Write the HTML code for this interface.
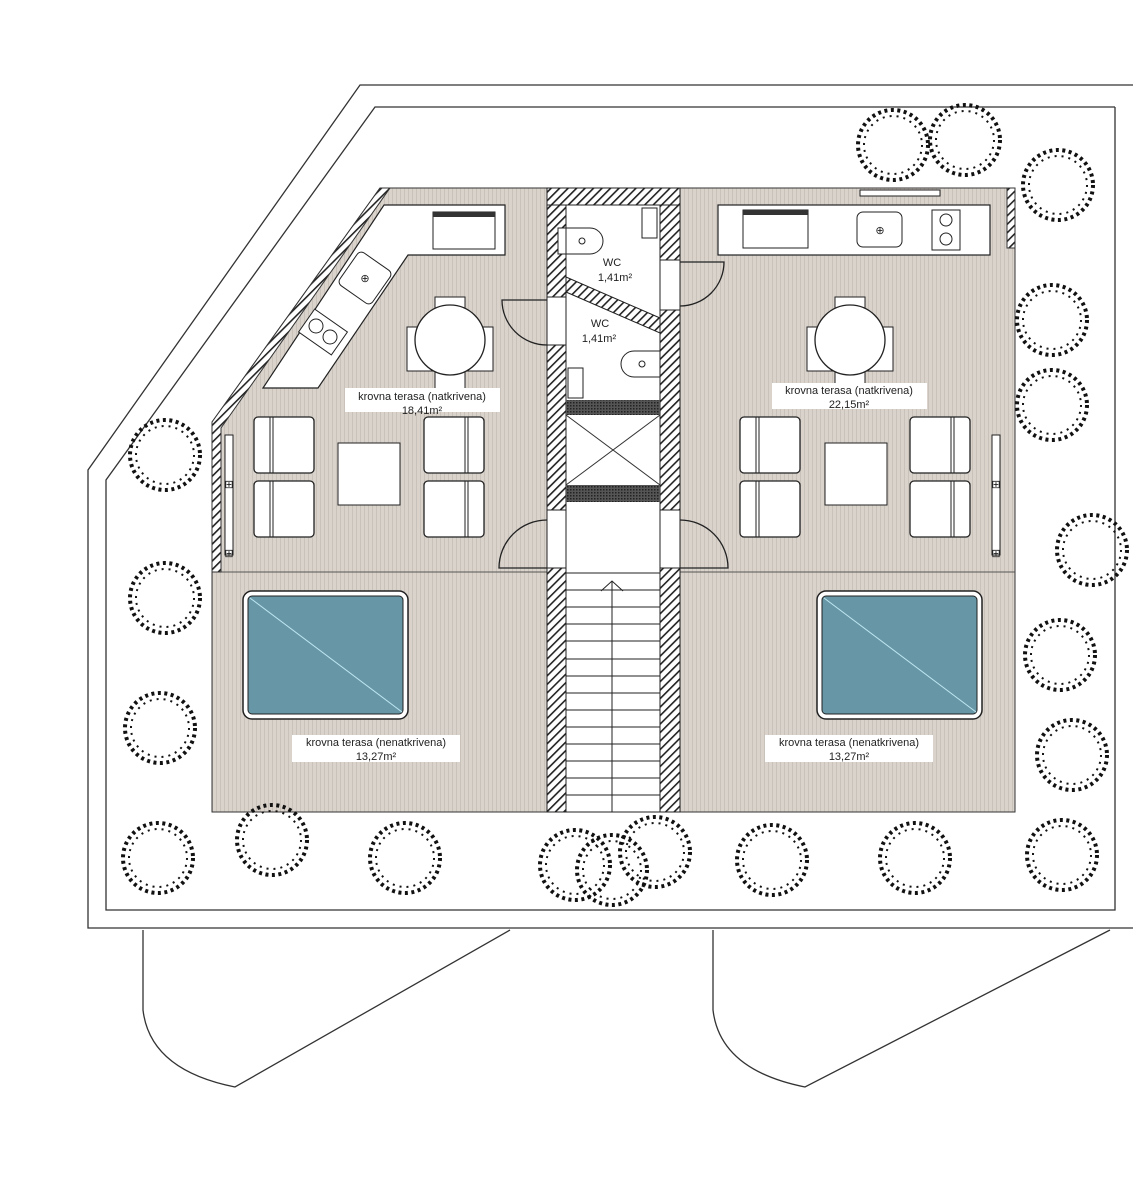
<!DOCTYPE html>
<html><head><meta charset="utf-8"><style>body{margin:0;background:#fff}svg{display:block}text{font-family:"Liberation Sans",sans-serif;font-size:11px;fill:#222;text-anchor:middle}</style></head>
<body>
<svg width="1133" height="1200" viewBox="0 0 1133 1200" xmlns="http://www.w3.org/2000/svg">
<defs>
<pattern id="stripe" width="4" height="4" patternUnits="userSpaceOnUse"><rect width="4" height="4" fill="#d9d3cc"/><rect width="1" height="4" fill="#c9c2bb"/></pattern>
<pattern id="hatch" width="6" height="6" patternUnits="userSpaceOnUse" patternTransform="rotate(45)"><rect width="6" height="6" fill="#fff"/><rect width="1.6" height="6" fill="#222"/></pattern>
<pattern id="dots" width="3" height="3" patternUnits="userSpaceOnUse"><rect width="3" height="3" fill="#555"/><rect width="1.5" height="1.5" fill="#222"/></pattern>
<g id="tree" fill="none" stroke="#111"><circle r="35" stroke-width="4" stroke-dasharray="3 3.5"/><circle r="29" stroke-width="2" stroke-dasharray="2 5"/></g>
<g id="chair"><rect x="0" y="0" width="60" height="56" rx="4" fill="#fff" stroke="#222" stroke-width="1.3"/><line x1="16" y1="0" x2="16" y2="56" stroke="#222"/><line x1="19" y1="0" x2="19" y2="56" stroke="#222"/></g>
</defs>
<polyline points="1133,85 360,85 88,470 88,928 1133,928" fill="none" stroke="#333" stroke-width="1.3"/>
<polyline points="1115,107 375,107 106,480 106,910 1115,910 1115,107" fill="none" stroke="#333" stroke-width="1.3"/>
<path d="M143,930 L143,1010 Q150,1070 235,1087 L510,930" fill="none" stroke="#333" stroke-width="1.3"/>
<path d="M713,930 L713,1010 Q720,1070 805,1087 L1110,930" fill="none" stroke="#333" stroke-width="1.3"/>
<polygon points="212,812 212,422 380,188 547,188 547,812" fill="url(#stripe)" stroke="#333"/>
<rect x="680" y="188" width="335" height="624" fill="url(#stripe)" stroke="#333"/>
<line x1="212" y1="572" x2="547" y2="572" stroke="#555"/>
<line x1="680" y1="572" x2="1015" y2="572" stroke="#555"/>
<polygon points="212,422 380,188 390,188 221,428 221,572 212,572" fill="url(#hatch)" stroke="#333"/>
<rect x="1007" y="188" width="8" height="60" fill="url(#hatch)" stroke="#333"/>
<polygon points="263,388 384,205 505,205 505,255 408,255 318,388" fill="#fff" stroke="#222" stroke-width="1.2"/>
<rect x="433" y="212" width="62" height="37" fill="#fff" stroke="#222"/><rect x="433" y="212" width="62" height="5" fill="#333"/>
<rect x="345" y="258" width="40" height="40" rx="5" fill="#fff" stroke="#222" transform="rotate(35 365 278)"/>
<text x="365" y="282" font-size="12">⊕</text>
<rect x="303" y="318" width="40" height="28" fill="#fff" stroke="#222" transform="rotate(35 323 332)"/>
<circle cx="316" cy="326" r="7" fill="none" stroke="#222"/><circle cx="330" cy="337" r="7" fill="none" stroke="#222"/>
<rect x="435" y="297" width="30" height="105" fill="#fff" stroke="#222"/><rect x="407" y="327" width="86" height="44" fill="#fff" stroke="#222"/>
<circle cx="450" cy="340" r="35" fill="#fff" stroke="#222" stroke-width="1.3"/>
<rect x="345" y="388" width="155" height="24" fill="#fff"/>
<text x="422" y="400">krovna terasa (natkrivena)</text><text x="422" y="414">18,41m²</text>
<use href="#chair" x="254" y="417"/><use href="#chair" x="254" y="481"/>
<g transform="translate(484,417) scale(-1,1)"><use href="#chair"/></g><g transform="translate(484,481) scale(-1,1)"><use href="#chair"/></g>
<rect x="338" y="443" width="62" height="62" fill="#fff" stroke="#222"/>
<rect x="225" y="435" width="8" height="120" fill="#fff" stroke="#222"/>
<text x="229" y="488" font-size="12">⊞</text><text x="229" y="557" font-size="12">⊞</text>
<rect x="718" y="205" width="272" height="50" fill="#fff" stroke="#222" stroke-width="1.2"/>
<rect x="743" y="210" width="65" height="38" fill="#fff" stroke="#222"/><rect x="743" y="210" width="65" height="5" fill="#333"/>
<rect x="857" y="212" width="45" height="35" rx="6" fill="#fff" stroke="#222"/><text x="880" y="234" font-size="12">⊕</text>
<rect x="932" y="210" width="28" height="40" fill="#fff" stroke="#222"/><circle cx="946" cy="220" r="6" fill="none" stroke="#222"/><circle cx="946" cy="239" r="6" fill="none" stroke="#222"/>
<rect x="860" y="190" width="80" height="6" fill="#fff" stroke="#222"/>
<rect x="835" y="297" width="30" height="105" fill="#fff" stroke="#222"/><rect x="807" y="327" width="86" height="44" fill="#fff" stroke="#222"/>
<circle cx="850" cy="340" r="35" fill="#fff" stroke="#222" stroke-width="1.3"/>
<rect x="772" y="383" width="155" height="26" fill="#fff"/>
<text x="849" y="394">krovna terasa (natkrivena)</text><text x="849" y="408">22,15m²</text>
<use href="#chair" x="740" y="417"/><use href="#chair" x="740" y="481"/>
<g transform="translate(970,417) scale(-1,1)"><use href="#chair"/></g><g transform="translate(970,481) scale(-1,1)"><use href="#chair"/></g>
<rect x="825" y="443" width="62" height="62" fill="#fff" stroke="#222"/>
<rect x="992" y="435" width="8" height="120" fill="#fff" stroke="#222"/>
<text x="996" y="488" font-size="12">⊞</text><text x="996" y="557" font-size="12">⊞</text>
<rect x="243" y="591" width="165" height="128" rx="9" fill="#fff" stroke="#222" stroke-width="1.5"/>
<rect x="248" y="596" width="155" height="118" rx="4" fill="#6797a6" stroke="#222"/><line x1="250" y1="598" x2="402" y2="712" stroke="#bfe6f2"/>
<rect x="817" y="591" width="165" height="128" rx="9" fill="#fff" stroke="#222" stroke-width="1.5"/>
<rect x="822" y="596" width="155" height="118" rx="4" fill="#6797a6" stroke="#222"/><line x1="824" y1="598" x2="976" y2="712" stroke="#bfe6f2"/>
<rect x="292" y="735" width="168" height="27" fill="#fff"/><text x="376" y="746">krovna terasa (nenatkrivena)</text><text x="376" y="760">13,27m²</text>
<rect x="765" y="735" width="168" height="27" fill="#fff"/><text x="849" y="746">krovna terasa (nenatkrivena)</text><text x="849" y="760">13,27m²</text>
<rect x="547" y="188" width="133" height="624" fill="#fff" stroke="#222"/>
<rect x="547" y="188" width="133" height="17" fill="url(#hatch)" stroke="#222"/>
<rect x="547" y="205" width="19" height="607" fill="url(#hatch)" stroke="#222"/>
<rect x="660" y="205" width="20" height="607" fill="url(#hatch)" stroke="#222"/>
<polygon points="566,277 660,318 660,333 566,292" fill="url(#hatch)" stroke="#222"/>
<rect x="547" y="297" width="19" height="48" fill="#fff" stroke="#222"/>
<rect x="660" y="260" width="20" height="50" fill="#fff" stroke="#222"/>
<rect x="547" y="510" width="19" height="58" fill="#fff" stroke="#222"/>
<rect x="660" y="510" width="20" height="58" fill="#fff" stroke="#222"/>
<path d="M547,300 L502,300 A45,45 0 0 0 547,345" fill="none" stroke="#222" stroke-width="1.3"/>
<path d="M680,262 L724,262 A44,44 0 0 1 680,306" fill="none" stroke="#222" stroke-width="1.3"/>
<path d="M547,568 L499,568 A48,48 0 0 1 547,520" fill="none" stroke="#222" stroke-width="1.3"/>
<path d="M680,568 L728,568 A48,48 0 0 0 680,520" fill="none" stroke="#222" stroke-width="1.3"/>
<rect x="566" y="400" width="94" height="15" fill="url(#dots)"/>
<rect x="566" y="485" width="94" height="17" fill="url(#dots)"/>
<line x1="566" y1="415" x2="660" y2="485" stroke="#333"/><line x1="660" y1="415" x2="566" y2="485" stroke="#333"/>
<rect x="558" y="228" width="8" height="26" fill="#fff" stroke="#222"/>
<path d="M566,228 L590,228 A13,13 0 0 1 590,254 L566,254 Z" fill="#fff" stroke="#222"/><circle cx="582" cy="241" r="3" fill="none" stroke="#222"/>
<rect x="642" y="208" width="15" height="30" fill="#fff" stroke="#222"/>
<text x="612" y="266">WC</text><text x="615" y="281">1,41m²</text>
<text x="600" y="327">WC</text><text x="599" y="342">1,41m²</text>
<path d="M660,351 L634,351 A13,13 0 0 0 634,377 L660,377 Z" fill="#fff" stroke="#222"/><circle cx="642" cy="364" r="3" fill="none" stroke="#222"/>
<rect x="568" y="368" width="15" height="30" fill="#fff" stroke="#222"/>
<g stroke="#222">
<line x1="566" y1="573" x2="660" y2="573"/><line x1="566" y1="590" x2="660" y2="590"/><line x1="566" y1="607" x2="660" y2="607"/><line x1="566" y1="624" x2="660" y2="624"/><line x1="566" y1="641" x2="660" y2="641"/><line x1="566" y1="659" x2="660" y2="659"/><line x1="566" y1="676" x2="660" y2="676"/><line x1="566" y1="693" x2="660" y2="693"/><line x1="566" y1="710" x2="660" y2="710"/><line x1="566" y1="727" x2="660" y2="727"/><line x1="566" y1="744" x2="660" y2="744"/><line x1="566" y1="761" x2="660" y2="761"/><line x1="566" y1="778" x2="660" y2="778"/><line x1="566" y1="795" x2="660" y2="795"/>
<line x1="612" y1="581" x2="612" y2="812"/><polyline points="601,591 612,581 623,591" fill="none"/>
</g>
<use href="#tree" x="893" y="145"/><use href="#tree" x="965" y="140"/><use href="#tree" x="1058" y="185"/>
<use href="#tree" x="1052" y="320"/><use href="#tree" x="1052" y="405"/><use href="#tree" x="1092" y="550"/>
<use href="#tree" x="1060" y="655"/><use href="#tree" x="1072" y="755"/><use href="#tree" x="1062" y="855"/>
<use href="#tree" x="165" y="455"/><use href="#tree" x="165" y="598"/><use href="#tree" x="160" y="728"/><use href="#tree" x="158" y="858"/>
<use href="#tree" x="272" y="840"/><use href="#tree" x="405" y="858"/><use href="#tree" x="575" y="865"/><use href="#tree" x="655" y="852"/><use href="#tree" x="612" y="870"/>
<use href="#tree" x="772" y="860"/><use href="#tree" x="915" y="858"/>
</svg>
</body></html>
